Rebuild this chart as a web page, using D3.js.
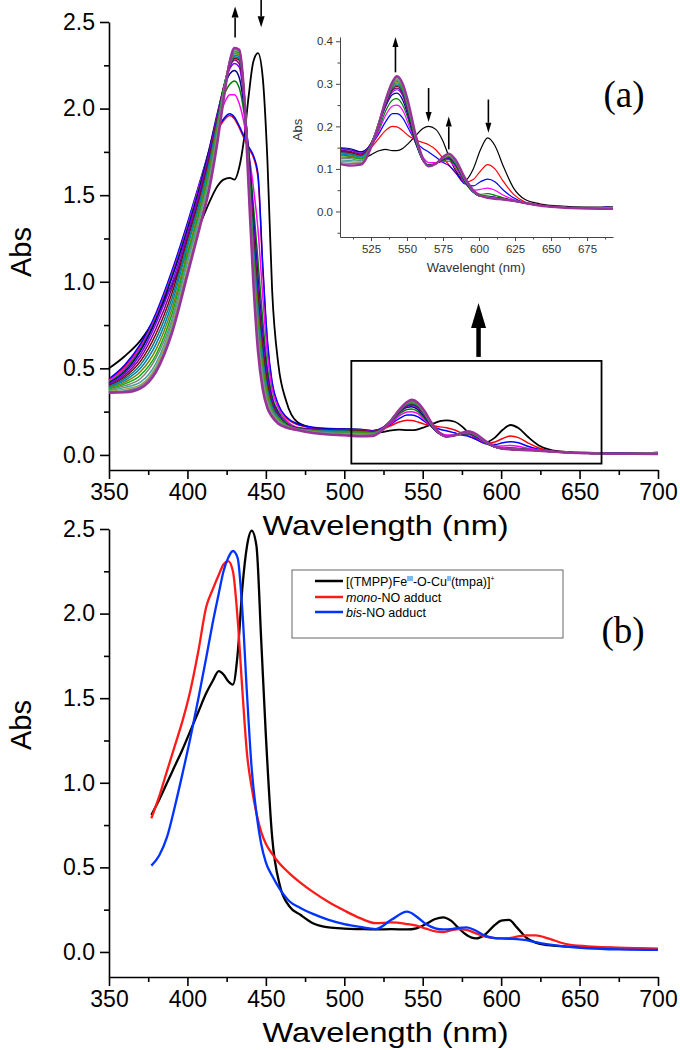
<!DOCTYPE html>
<html><head><meta charset="utf-8">
<script src="https://cdn.jsdelivr.net/npm/d3@7"></script>
<style>body{margin:0;background:#fff}svg{display:block}</style>
</head><body><svg id="c" width="680" height="1050"></svg>
<script>
// ---------------- DATA ----------------
// panel (a): titration spectra, wavelength grid (nm)
const wlTitration = [350,360,370,380,390,400,408,414,419,423,427,430,433,436,439,442,445,448,451,454,458,463,470,480,490,500,
  510,518,525,530,535,540,543,547,551,556,561,565,570,575,579,584,590,596,601,606,611,617,624,632,642,655,675,700];
const specBlack = [0.50,0.57,0.66,0.80,0.98,1.17,1.33,1.46,1.55,1.59,1.60,1.59,1.66,1.82,2.07,2.27,2.32,2.18,1.70,0.95,0.52,0.31,0.19,0.155,0.14,0.135,
  0.13,0.125,0.133,0.142,0.146,0.143,0.143,0.148,0.16,0.178,0.195,0.20,0.193,0.165,0.13,0.095,0.072,0.10,0.145,0.173,0.155,0.105,0.055,0.028,0.018,0.013,0.01,0.01];
const specRed = [0.435,0.51,0.63,0.81,1.05,1.33,1.57,1.75,1.87,1.93,1.96,1.94,1.89,1.83,1.77,1.72,1.60,1.08,0.64,0.41,0.285,0.215,0.175,0.157,0.15,0.147,
  0.14,0.133,0.15,0.17,0.19,0.20,0.199,0.19,0.178,0.168,0.162,0.157,0.145,0.125,0.11,0.09,0.068,0.075,0.095,0.11,0.10,0.07,0.04,0.022,0.015,0.01,0.008,0.01];
const specBlue = [0.44,0.52,0.64,0.82,1.06,1.34,1.58,1.76,1.88,1.94,1.97,1.95,1.90,1.84,1.78,1.73,1.62,1.10,0.66,0.42,0.29,0.22,0.18,0.16,0.152,0.15,
  0.145,0.14,0.155,0.18,0.21,0.23,0.23,0.22,0.195,0.165,0.148,0.14,0.128,0.115,0.108,0.09,0.065,0.06,0.07,0.076,0.07,0.05,0.032,0.02,0.014,0.01,0.008,0.014];
const specMagenta = [0.43,0.50,0.62,0.80,1.04,1.32,1.57,1.76,1.92,2.02,2.08,2.08,2.03,1.92,1.75,1.55,1.30,0.92,0.58,0.38,0.27,0.20,0.16,0.15,0.145,0.142,
  0.138,0.135,0.155,0.185,0.225,0.248,0.25,0.238,0.205,0.16,0.128,0.115,0.115,0.117,0.118,0.10,0.068,0.05,0.052,0.055,0.05,0.038,0.028,0.02,0.014,0.01,0.008,0.012];
const specGreen = [0.42,0.49,0.61,0.79,1.03,1.31,1.56,1.77,1.95,2.07,2.14,2.16,2.12,1.98,1.75,1.45,1.12,0.78,0.50,0.34,0.25,0.19,0.155,0.145,0.14,0.14,
  0.135,0.13,0.155,0.19,0.235,0.262,0.265,0.25,0.215,0.16,0.122,0.11,0.113,0.12,0.122,0.105,0.07,0.045,0.04,0.042,0.038,0.032,0.026,0.02,0.014,0.01,0.008,0.012];
const specNavy = [0.415,0.48,0.60,0.78,1.02,1.30,1.55,1.77,1.97,2.11,2.20,2.22,2.18,2.02,1.75,1.38,1.02,0.70,0.46,0.32,0.24,0.18,0.155,0.148,0.148,0.15,
  0.148,0.14,0.16,0.20,0.245,0.275,0.278,0.262,0.222,0.162,0.12,0.108,0.112,0.122,0.125,0.108,0.072,0.045,0.036,0.036,0.033,0.03,0.025,0.019,0.014,0.01,0.008,0.014];
// later titration spectra (one row per wavelength of wlTitration, one column per spectrum; last column = final spectrum)
const bandRows = [
 [0.41,0.405,0.40,0.395,0.39,0.385,0.38,0.375,0.37,0.367,0.363,0.36],
 [0.47,0.46,0.45,0.44,0.43,0.42,0.41,0.40,0.39,0.38,0.37,0.362],
 [0.58,0.56,0.54,0.52,0.50,0.48,0.46,0.44,0.42,0.405,0.395,0.385],
 [0.76,0.73,0.70,0.67,0.64,0.61,0.58,0.56,0.53,0.51,0.495,0.48],
 [0.99,0.96,0.93,0.90,0.87,0.84,0.81,0.78,0.76,0.74,0.72,0.70],
 [1.28,1.26,1.24,1.22,1.20,1.17,1.15,1.13,1.11,1.08,1.06,1.04],
 [1.53,1.51,1.49,1.47,1.45,1.43,1.41,1.39,1.37,1.35,1.33,1.32],
 [1.75,1.73,1.71,1.69,1.67,1.65,1.63,1.61,1.59,1.57,1.555,1.54],
 [1.96,1.95,1.93,1.92,1.90,1.89,1.87,1.86,1.84,1.83,1.81,1.80],
 [2.12,2.12,2.12,2.11,2.11,2.10,2.10,2.09,2.08,2.07,2.06,2.05],
 [2.23,2.24,2.25,2.25,2.26,2.26,2.27,2.27,2.27,2.28,2.28,2.27],
 [2.26,2.28,2.29,2.30,2.31,2.32,2.33,2.33,2.34,2.34,2.35,2.35],
 [2.24,2.26,2.28,2.29,2.30,2.31,2.32,2.33,2.33,2.34,2.34,2.34],
 [2.06,2.08,2.09,2.10,2.10,2.11,2.11,2.11,2.11,2.11,2.10,2.10],
 [1.73,1.71,1.69,1.67,1.65,1.64,1.62,1.61,1.59,1.58,1.56,1.55],
 [1.33,1.29,1.25,1.22,1.18,1.15,1.12,1.09,1.07,1.04,1.02,1.00],
 [0.97,0.93,0.89,0.85,0.81,0.78,0.74,0.71,0.68,0.65,0.62,0.60],
 [0.66,0.63,0.60,0.57,0.54,0.51,0.48,0.46,0.44,0.42,0.40,0.38],
 [0.44,0.42,0.40,0.38,0.36,0.35,0.33,0.32,0.30,0.29,0.28,0.27],
 [0.31,0.30,0.29,0.28,0.27,0.26,0.255,0.25,0.24,0.235,0.228,0.22],
 [0.235,0.23,0.225,0.22,0.215,0.21,0.205,0.20,0.195,0.19,0.185,0.18],
 [0.18,0.178,0.176,0.174,0.172,0.17,0.168,0.166,0.164,0.162,0.16,0.158],
 [0.155,0.154,0.153,0.152,0.151,0.15,0.149,0.148,0.147,0.146,0.145,0.144],
 [0.147,0.146,0.145,0.143,0.141,0.139,0.137,0.135,0.133,0.131,0.129,0.127],
 [0.146,0.144,0.142,0.14,0.137,0.134,0.131,0.128,0.125,0.122,0.12,0.118],
 [0.147,0.144,0.141,0.138,0.135,0.132,0.128,0.125,0.122,0.119,0.116,0.114],
 [0.145,0.142,0.139,0.136,0.133,0.130,0.127,0.124,0.120,0.117,0.113,0.108],
 [0.137,0.135,0.132,0.13,0.128,0.125,0.123,0.12,0.118,0.115,0.113,0.11],
 [0.16,0.159,0.158,0.157,0.156,0.155,0.154,0.153,0.152,0.151,0.15,0.15],
 [0.202,0.203,0.203,0.204,0.204,0.204,0.205,0.205,0.205,0.205,0.204,0.20],
 [0.248,0.25,0.252,0.254,0.255,0.256,0.257,0.258,0.259,0.26,0.26,0.26],
 [0.281,0.285,0.288,0.291,0.294,0.296,0.298,0.30,0.302,0.303,0.304,0.305],
 [0.286,0.29,0.294,0.297,0.30,0.303,0.306,0.308,0.311,0.313,0.315,0.318],
 [0.272,0.276,0.28,0.283,0.286,0.289,0.291,0.293,0.295,0.297,0.299,0.30],
 [0.228,0.231,0.234,0.237,0.24,0.242,0.244,0.246,0.248,0.25,0.252,0.255],
 [0.165,0.166,0.167,0.168,0.17,0.171,0.172,0.174,0.175,0.177,0.178,0.18],
 [0.12,0.12,0.121,0.121,0.122,0.122,0.123,0.123,0.124,0.124,0.125,0.125],
 [0.107,0.107,0.107,0.107,0.107,0.106,0.106,0.106,0.106,0.106,0.106,0.106],
 [0.112,0.112,0.112,0.112,0.112,0.112,0.112,0.112,0.112,0.112,0.112,0.112],
 [0.123,0.123,0.124,0.124,0.125,0.125,0.126,0.126,0.127,0.127,0.128,0.128],
 [0.126,0.127,0.128,0.129,0.13,0.13,0.131,0.132,0.133,0.134,0.135,0.136],
 [0.109,0.11,0.111,0.112,0.113,0.114,0.115,0.116,0.117,0.118,0.119,0.12],
 [0.073,0.073,0.074,0.074,0.075,0.076,0.076,0.077,0.078,0.078,0.079,0.08],
 [0.046,0.046,0.047,0.047,0.047,0.048,0.048,0.048,0.049,0.049,0.05,0.05],
 [0.036,0.036,0.036,0.036,0.036,0.036,0.036,0.037,0.037,0.037,0.037,0.037],
 [0.035,0.035,0.035,0.034,0.034,0.034,0.033,0.033,0.033,0.033,0.032,0.032],
 [0.033,0.033,0.032,0.032,0.032,0.031,0.031,0.031,0.031,0.03,0.03,0.03],
 [0.03,0.03,0.03,0.029,0.029,0.029,0.029,0.028,0.028,0.028,0.028,0.028],
 [0.025,0.025,0.025,0.025,0.025,0.025,0.025,0.025,0.025,0.025,0.025,0.025],
 [0.02,0.02,0.02,0.02,0.02,0.02,0.02,0.02,0.02,0.02,0.02,0.02],
 [0.014,0.014,0.014,0.014,0.014,0.014,0.014,0.014,0.014,0.014,0.014,0.014],
 [0.01,0.01,0.01,0.01,0.01,0.01,0.01,0.01,0.01,0.01,0.01,0.01],
 [0.008,0.008,0.008,0.008,0.008,0.007,0.007,0.007,0.007,0.007,0.007,0.007],
 [0.013,0.013,0.012,0.012,0.011,0.011,0.01,0.01,0.009,0.008,0.007,0.006]
];
const titrationColors = ['#000000','#ff0000','#0000ff','#ff00ff','#008000','#000080',
  '#8000ff','#800080','#800000','#008080','#0080c0','#808000','#00b000','#808080','#40a0a0','#a0a040','#6080a0','#993399'];

// panel (b): reference spectra
const wlRef = [377,382,387,392,397,402,407,412,416,420,423,426,429,432,435,438,441,444,447,450,454,459,465,472,480,490,500,510,520,530,
  540,546,552,558,563,568,573,578,584,590,596,600,605,610,616,622,630,640,655,675,700];
const refStart = [0.81,0.90,1.00,1.10,1.20,1.31,1.42,1.53,1.60,1.66,1.64,1.60,1.58,1.76,2.15,2.40,2.49,2.40,1.85,1.28,
  0.68,0.39,0.27,0.22,0.17,0.145,0.138,0.135,0.133,0.135,0.133,0.14,0.165,0.195,0.205,0.185,0.14,0.10,0.08,0.105,
  0.16,0.185,0.19,0.145,0.085,0.055,0.04,0.033,0.028,0.022,0.017];
const refMono = [0.79,0.92,1.07,1.22,1.37,1.55,1.78,2.04,2.14,2.23,2.29,2.31,2.25,1.97,1.55,1.17,0.97,0.82,0.71,0.64,
  0.58,0.52,0.465,0.41,0.355,0.295,0.245,0.20,0.17,0.175,0.165,0.155,0.138,0.122,0.118,0.128,0.135,0.13,0.11,0.09,
  0.082,0.08,0.082,0.09,0.098,0.098,0.08,0.05,0.033,0.025,0.02];
const refBis = [0.51,0.57,0.68,0.86,1.06,1.27,1.50,1.74,1.94,2.12,2.25,2.33,2.37,2.33,2.02,1.52,1.08,0.82,0.64,0.53,
  0.45,0.37,0.30,0.26,0.225,0.19,0.165,0.148,0.135,0.19,0.238,0.21,0.165,0.14,0.133,0.135,0.142,0.145,0.125,0.095,
  0.082,0.08,0.078,0.076,0.07,0.058,0.045,0.033,0.022,0.015,0.012];
const refColors = ['#000000','#ff1a1a','#0033ff'];

// ticks
const xMajor = [350,400,450,500,550,600,650,700];
const xMinor = [375,425,475,525,575,625,675];
const yMajor = [0,0.5,1,1.5,2,2.5];
const yMinor = [0.25,0.75,1.25,1.75,2.25];
const inXMajor = [525,550,575,600,625,650,675];
const inXMinor = [512.5,537.5,562.5,587.5,612.5,637.5,662.5,687.5];
const inYMajor = [0,0.1,0.2,0.3,0.4];
const inYMinor = [-0.05,0.05,0.15,0.25,0.35];

// annotations (data coordinates)
const arrowsTop = [{wl:430.4, from:2.41, to:2.59},{wl:447, from:2.63, to:2.47}];
const arrowsInset = [{wl:542, from:0.327, to:0.41},{wl:565, from:0.29, to:0.21},{wl:579, from:0.146, to:0.223},{wl:606.5, from:0.263, to:0.185}];
const zoomBox = {x0:504.5, x1:664, y0:-0.05, y1:0.543};
const bigArrow = {wl:585.6, from:0.566, to:0.878};

// ---------------- DRAW ----------------
const svg = d3.select('#c');
const SANS = '"Liberation Sans", Arial, sans-serif';
const SERIF = '"Liberation Serif", "DejaVu Serif", serif';

const xTop = d3.scaleLinear([350,700],[109,658]);
const yTop = d3.scaleLinear([-0.087,2.5],[470,22]);
const xBot = d3.scaleLinear([350,700],[109,658]);
const yBot = d3.scaleLinear([-0.148,2.5],[977,529]);
const xIn = d3.scaleLinear([503.5,693],[340,613]);
const yIn = d3.scaleLinear([-0.06,0.41],[237,37]);

function mainAxes(x, y, labelY, absY) {
  const g = svg.append('g');
  const x0 = x.range()[0], yb = y.range()[0];
  const ym = g.append('g').attr('transform',`translate(${x0},0)`)
    .call(d3.axisLeft(y).tickValues(yMinor).tickSize(5).tickFormat('').tickSizeOuter(0));
  ym.select('.domain').remove();
  g.append('g').attr('transform',`translate(${x0},0)`)
    .call(d3.axisLeft(y).tickValues(yMajor).tickSize(9).tickPadding(5).tickFormat(d3.format('.1f')).tickSizeOuter(0));
  const xm = g.append('g').attr('transform',`translate(0,${yb})`)
    .call(d3.axisBottom(x).tickValues(xMinor).tickSize(5).tickFormat('').tickSizeOuter(0));
  xm.select('.domain').remove();
  g.append('g').attr('transform',`translate(0,${yb})`)
    .call(d3.axisBottom(x).tickValues(xMajor).tickSize(9).tickPadding(5).tickFormat(d3.format('d')).tickSizeOuter(0));
  g.selectAll('path.domain').attr('stroke','#000').attr('stroke-width',1.6);
  g.selectAll('.tick line').attr('stroke','#000').attr('stroke-width',1.6);
  g.selectAll('.tick text').attr('font-family',SANS).attr('font-size',23).attr('fill','#000');
  g.append('text').attr('x',(x.range()[0]+x.range()[1])/2 + 2).attr('y',labelY)
    .attr('text-anchor','middle').attr('font-family',SANS).attr('font-size',28)
    .attr('textLength',246).attr('lengthAdjust','spacingAndGlyphs').text('Wavelength (nm)');
  g.append('text').attr('transform',`translate(31,${absY}) rotate(-90)`)
    .attr('text-anchor','middle').attr('font-family',SANS).attr('font-size',29).text('Abs');
}

function lineGen(wl, x, y) {
  return d3.line().x((d,i)=>x(wl[i])).y(d=>y(d)).curve(d3.curveMonotoneX);
}

function arrow(g, xp, yTail, yTip, shaftW, headW, headL, color) {
  const dir = yTip < yTail ? 1 : -1; // 1 => pointing up
  const yBase = yTip + dir*headL;
  g.append('line').attr('x1',xp).attr('x2',xp).attr('y1',yTail).attr('y2',yBase)
    .attr('stroke',color).attr('stroke-width',shaftW);
  g.append('path').attr('d',`M${xp},${yTip}L${xp-headW/2},${yBase}L${xp+headW/2},${yBase}Z`).attr('fill',color);
}

// ---- panel (a) ----
const titrationSpectra = [specBlack, specRed, specBlue, specMagenta, specGreen, specNavy]
  .concat(d3.range(12).map(k => bandRows.map(r => r[k])));

mainAxes(xTop, yTop, 535, 252);
const lineTop = lineGen(wlTitration, xTop, yTop);
const gTop = svg.append('g');
titrationSpectra.forEach((s,i)=>{
  gTop.append('path').attr('d',lineTop(s)).attr('fill','none')
    .attr('stroke',titrationColors[i])
    .attr('stroke-width', i===0 ? 1.8 : (i===titrationSpectra.length-1 ? 2.6 : 1.5))
    .attr('stroke-linejoin','round');
});
arrowsTop.forEach(a=>arrow(svg, xTop(a.wl), yTop(a.from), yTop(a.to), 1.6, 7, 11, '#000'));
svg.append('rect').attr('x',xTop(zoomBox.x0)).attr('y',yTop(zoomBox.y1))
  .attr('width',xTop(zoomBox.x1)-xTop(zoomBox.x0)).attr('height',yTop(zoomBox.y0)-yTop(zoomBox.y1))
  .attr('fill','none').attr('stroke','#000').attr('stroke-width',1.8);
arrow(svg, xTop(bigArrow.wl), yTop(bigArrow.from), yTop(bigArrow.to), 4.5, 15, 25, '#000');

// inset
const gIn = svg.append('g');
svg.append('clipPath').attr('id','clipIn').append('rect')
  .attr('x',340).attr('y',30).attr('width',273).attr('height',207);
const lineIn = lineGen(wlTitration, xIn, yIn);
const gInLines = gIn.append('g').attr('clip-path','url(#clipIn)');
titrationSpectra.forEach((s,i)=>{
  gInLines.append('path').attr('d',lineIn(s)).attr('fill','none')
    .attr('stroke',titrationColors[i])
    .attr('stroke-width', i===titrationSpectra.length-1 ? 2.4 : 1.2);
});
{
  const a1 = gIn.append('g').attr('transform','translate(340,0)')
    .call(d3.axisLeft(yIn).tickValues(inYMinor).tickSize(2.5).tickFormat('').tickSizeOuter(0));
  a1.select('.domain').remove();
  gIn.append('g').attr('transform','translate(340,0)')
    .call(d3.axisLeft(yIn).tickValues(inYMajor).tickSize(4).tickPadding(3).tickFormat(d3.format('.1f')).tickSizeOuter(0));
  const a3 = gIn.append('g').attr('transform','translate(0,237)')
    .call(d3.axisBottom(xIn).tickValues(inXMinor).tickSize(2.5).tickFormat('').tickSizeOuter(0));
  a3.select('.domain').remove();
  gIn.append('g').attr('transform','translate(0,237)')
    .call(d3.axisBottom(xIn).tickValues(inXMajor).tickSize(4).tickPadding(4).tickFormat(d3.format('d')).tickSizeOuter(0));
  gIn.selectAll('path.domain').attr('stroke','#444').attr('stroke-width',1);
  gIn.selectAll('.tick line').attr('stroke','#444').attr('stroke-width',1);
  gIn.selectAll('.tick text').attr('font-family',SANS).attr('font-size',11.5).attr('fill','#333');
  gIn.append('text').attr('x',476).attr('y',272).attr('text-anchor','middle')
    .attr('font-family',SANS).attr('font-size',13).attr('fill','#333').text('Wavelenght (nm)');
  gIn.append('text').attr('transform','translate(302,130) rotate(-90)').attr('text-anchor','middle')
    .attr('font-family',SANS).attr('font-size',13).attr('fill','#333').text('Abs');
}
arrowsInset.forEach(a=>arrow(svg, xIn(a.wl), yIn(a.from), yIn(a.to), 1.6, 6, 10, '#000'));
svg.append('text').attr('x',624).attr('y',107).attr('text-anchor','middle')
  .attr('font-family',SERIF).attr('font-size',37).text('(a)');

// ---- panel (b) ----
mainAxes(xBot, yBot, 1042, 725);
const lineBot = lineGen(wlRef, xBot, yBot);
[refStart, refMono, refBis].forEach((s,i)=>{
  svg.append('path').attr('d',lineBot(s)).attr('fill','none')
    .attr('stroke',refColors[i]).attr('stroke-width',2.3).attr('stroke-linejoin','round');
});
// legend
{
  const g = svg.append('g');
  g.append('rect').attr('x',292).attr('y',570).attr('width',271).attr('height',68)
    .attr('fill','#fff').attr('stroke','#666').attr('stroke-width',1);
  const rows = [581, 597, 612];
  rows.forEach((ry,i)=>{
    g.append('line').attr('x1',315).attr('x2',343).attr('y1',ry).attr('y2',ry)
      .attr('stroke',refColors[i]).attr('stroke-width',2.5);
  });
  const fs = 12.5;
  const t0 = g.append('text').attr('x',346).attr('y',rows[0]+4.5).attr('font-family',SANS).attr('font-size',fs);
  t0.append('tspan').text('[(TMPP)Fe');
  t0.append('tspan').attr('dy',-5).attr('font-size',7).text('III');
  t0.append('tspan').attr('dy',5).text('-O-Cu');
  t0.append('tspan').attr('dy',-5).attr('font-size',7).text('II');
  t0.append('tspan').attr('dy',5).text('(tmpa)]');
  t0.append('tspan').attr('dy',-5).attr('font-size',7).text('+');
  const t1 = g.append('text').attr('x',346).attr('y',rows[1]+4.5).attr('font-family',SANS).attr('font-size',fs);
  t1.append('tspan').attr('font-style','italic').text('mono');
  t1.append('tspan').text('-NO adduct');
  const t2 = g.append('text').attr('x',346).attr('y',rows[2]+4.5).attr('font-family',SANS).attr('font-size',fs);
  t2.append('tspan').attr('font-style','italic').text('bis');
  t2.append('tspan').text('-NO adduct');
}
svg.append('text').attr('x',623).attr('y',643).attr('text-anchor','middle')
  .attr('font-family',SERIF).attr('font-size',37).text('(b)');
</script></body></html>
